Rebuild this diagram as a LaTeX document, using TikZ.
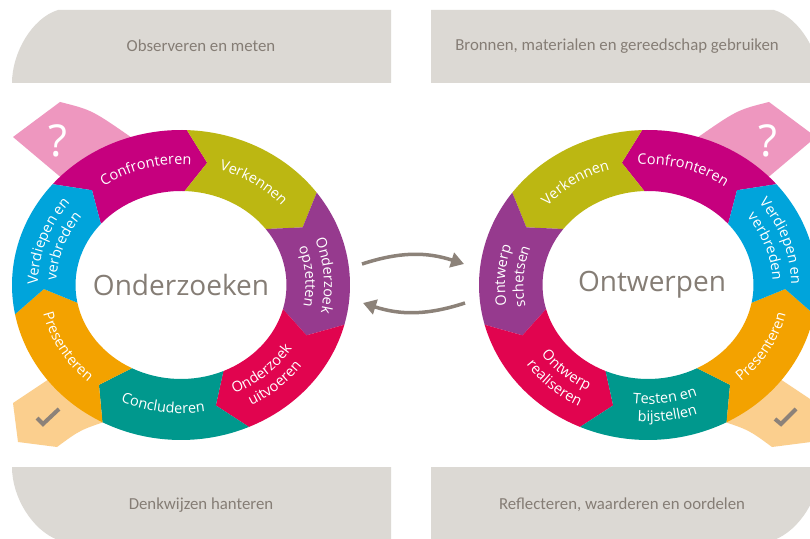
\documentclass[tikz,border=0pt]{standalone}
\usepackage{fontspec}
\setmainfont{Open Sans}
\newfontfamily\lblfamily{Open Sans}
\newfontfamily\bannerfamily{Carlito}
\usetikzlibrary{decorations.text,arrows.meta,calc}
\definecolor{magentaC}{HTML}{C6007E}
\definecolor{oliveC}{HTML}{BCB712}
\definecolor{purpleC}{HTML}{963A8E}
\definecolor{crimsonC}{HTML}{E1044F}
\definecolor{tealC}{HTML}{00988D}
\definecolor{orangeC}{HTML}{F3A200}
\definecolor{blueC}{HTML}{00A4DB}
\definecolor{pinkC}{HTML}{EE97BF}
\definecolor{lightorangeC}{HTML}{FBCF8E}
\definecolor{bannerC}{HTML}{DCD9D4}
\definecolor{grayT}{HTML}{857D75}
\definecolor{arrowC}{HTML}{8C8279}
\newcommand\lblfont{\lblfamily\fontsize{14.5}{17}\selectfont\color{white}}
% ring segment: center, from angle, to angle, tip offset (+9/-9), colour
\newcommand\ringseg[5]{%
  \fill[#5, shift={(#1)}] (#2:169pt and 155pt)
    arc[start angle=#2, end angle=#3, x radius=169pt, y radius=155pt]
    -- ({#3#4}:137.25pt and 124.5pt)
    -- (#3:105.5pt and 94pt)
    arc[start angle=#3, end angle=#2, x radius=105.5pt, y radius=94pt]
    -- ({#2#4}:137.25pt and 124.5pt) -- cycle;}
% curved label: center, start, end, x radius, y radius, text
\newcommand\ringlabel[6]{%
  \path[shift={(#1)}, decorate, decoration={text along path, text align=center,
    text={|\lblfont|#6}}] (#2:#4pt and #5pt)
    arc[start angle=#2, end angle=#3, x radius=#4pt, y radius=#5pt];}
\begin{document}
\begin{tikzpicture}[x=1pt, y=1pt,
  bannertext/.style={font=\bannerfamily\fontsize{16.8}{19}\selectfont, text=grayT, inner sep=0pt},
  centertext/.style={font=\lblfamily\fontsize{28}{32}\selectfont, text=grayT, inner sep=0pt},
  qmark/.style={font=\lblfamily\fontsize{44}{48}\selectfont, text=white, inner sep=0pt},
  flowarrow/.style={draw=arrowC, line width=3.5pt, -{Triangle[length=13pt, width=15pt]}},
  checkline/.style={draw=arrowC, line width=4pt}]
\useasboundingbox (0,0) rectangle (810,538);
\clip (0,0) rectangle (810,538);
\fill[white] (0,0) rectangle (810,538);

% banners
\fill[bannerC] (391,455) -- (12,455) .. controls (12,485) and (32,520) .. (58,528) -- (391,528) -- cycle;
\fill[bannerC] (431,455) -- (820,455) .. controls (820,485) and (800,520) .. (774,528) -- (431,528) -- cycle;
\fill[bannerC] (391,71) -- (12,71) .. controls (12,41) and (32,8) .. (58,-2) -- (391,-2) -- cycle;
\fill[bannerC] (431,71) -- (820,71) .. controls (820,41) and (800,8) .. (774,-2) -- (431,-2) -- cycle;
\node[bannertext] (b1) at (201,492) {Observeren en meten};
\node[bannertext] (b2) at (617,492) {Bronnen, materialen en gereedschap gebruiken};
\node[bannertext] (b3) at (201,33) {Denkwijzen hanteren};
\node[bannertext] (b4) at (622,33) {Reflecteren, waarderen en oordelen};

\coordinate (lc) at (181,253);
\coordinate (rc) at (648,253);

% tabs left
\fill[pinkC] (13,401) -- (60,436) .. controls (92,428) .. (135,398) -- (70,353) -- cycle;
\fill[lightorangeC] (13,135) -- (55,163) -- (110,118) .. controls (80,108) .. (57,91) -- (18,96) -- cycle;
% tabs right
\fill[pinkC] (816,401) -- (769,436) .. controls (737,428) .. (694,398) -- (759,353) -- cycle;
\fill[lightorangeC] (816,135) -- (774,163) -- (719,118) .. controls (749,108) .. (772,91) -- (811,96) -- cycle;
\node[qmark] (q1) at (58,397) {?};
\node[qmark] (q2) at (768,397) {?};
\draw[checkline] (37,120) -- (43,114) -- (59,129);
\draw[checkline] (775,119) -- (781,114) -- (796,129);

% left ring (clockwise)
\ringseg{lc}{139.43}{88}{-9}{magentaC}
\ringseg{lc}{88}{36.57}{-9}{oliveC}
\ringseg{lc}{36.57}{-14.86}{-9}{purpleC}
\ringseg{lc}{-14.86}{-66.29}{-9}{crimsonC}
\ringseg{lc}{-66.29}{-117.71}{-9}{tealC}
\ringseg{lc}{-117.71}{-169.14}{-9}{orangeC}
\ringseg{lc}{-169.14}{-220.57}{-9}{blueC}

% right ring (counter-clockwise)
\ringseg{rc}{40.57}{92}{+9}{magentaC}
\ringseg{rc}{92}{143.43}{+9}{oliveC}
\ringseg{rc}{143.43}{194.86}{+9}{purpleC}
\ringseg{rc}{194.86}{246.29}{+9}{crimsonC}
\ringseg{rc}{246.29}{297.71}{+9}{tealC}
\ringseg{rc}{297.71}{349.14}{+9}{orangeC}
\ringseg{rc}{349.14}{400.57}{+9}{blueC}

% left labels
\ringlabel{lc}{151}{61}{133.1}{120.5}{Confronteren}
\ringlabel{lc}{101}{11}{133.1}{120.5}{Verkennen}
\ringlabel{lc}{49}{-41}{143.0}{130.0}{Onderzoek}
\ringlabel{lc}{49}{-41}{124.6}{112.3}{opzetten}
\ringlabel{lc}{-93}{-3}{131.5}{119.0}{Onderzoek}
\ringlabel{lc}{-93}{-3}{150.0}{136.7}{uitvoeren}
\ringlabel{lc}{-143}{-53}{141.4}{128.5}{Concluderen}
\ringlabel{lc}{-195}{-105}{141.4}{128.5}{Presenteren}
\ringlabel{lc}{206}{116}{143.0}{130.0}{Verdiepen en}
\ringlabel{lc}{206}{116}{124.6}{112.3}{verbreden}

% right labels
\ringlabel{rc}{119}{29}{133.1}{120.5}{Confronteren}
\ringlabel{rc}{169}{79}{133.1}{120.5}{Verkennen}
\ringlabel{rc}{221}{131}{143.0}{130.0}{Ontwerp}
\ringlabel{rc}{221}{131}{124.6}{112.3}{schetsen}
\ringlabel{rc}{183}{273}{131.5}{119.0}{Ontwerp}
\ringlabel{rc}{183}{273}{150.0}{136.7}{realiseren}
\ringlabel{rc}{233}{323}{131.5}{119.0}{Testen en}
\ringlabel{rc}{233}{323}{150.0}{136.7}{bijstellen}
\ringlabel{rc}{285}{375}{141.4}{128.5}{Presenteren}
\ringlabel{rc}{64}{-26}{143.0}{130.0}{Verdiepen en}
\ringlabel{rc}{64}{-26}{124.6}{112.3}{verbreden}

\node[centertext] (lword) at (lc) {Onderzoeken};
\node[centertext] (rword) at (652,253) {Ontwerpen};

% arrows between the cycles
\coordinate (a1s) at (362,274);
\coordinate (a1e) at (464,274);
\coordinate (a2s) at (465,235);
\coordinate (a2e) at (363,235);
\draw[flowarrow] (a1s) to[bend left=18] (a1e);
\draw[flowarrow] (a2s) to[bend left=18] (a2e);
\end{tikzpicture}
\end{document}
